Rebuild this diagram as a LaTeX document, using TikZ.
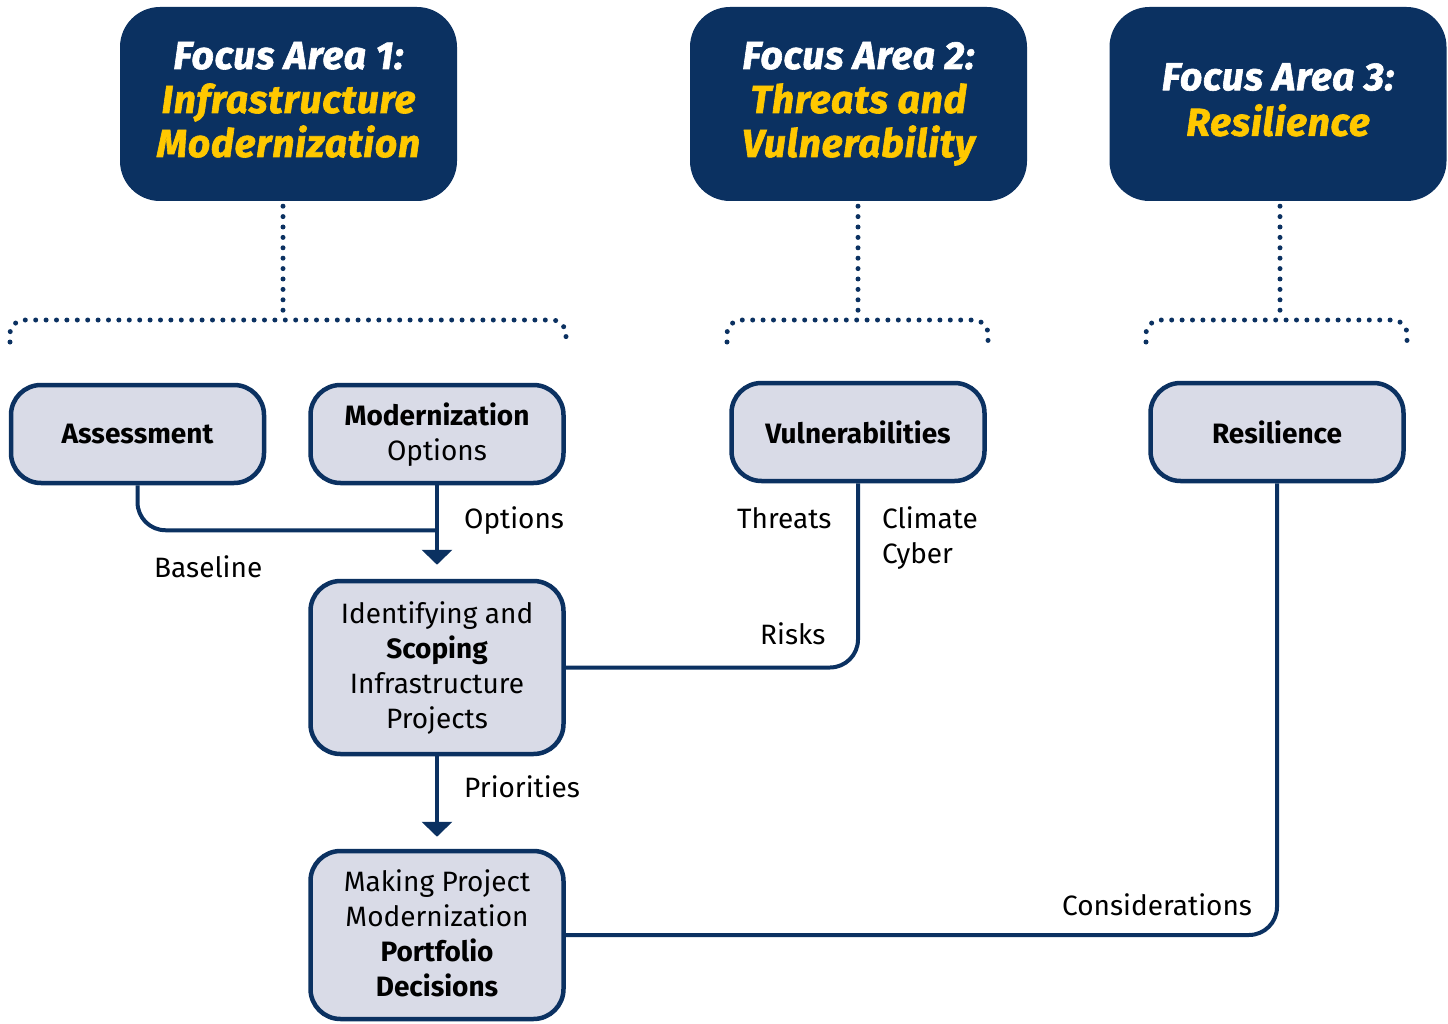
\documentclass[tikz,border=0pt]{standalone}
\usepackage{fontspec}
\setmainfont{Fira Sans}
\newfontfamily\titlefont[BoldItalicFeatures={FakeBold=1.6,LetterSpace=2}]{Fira Sans}
\usetikzlibrary{arrows.meta,calc}
\definecolor{navy}{HTML}{0B3161}
\definecolor{gold}{HTML}{FFC800}
\definecolor{lightfill}{HTML}{D9DBE7}
\newcommand{\tstrut}{\rule[-13pt]{0pt}{44pt}}
\newcommand{\bstrut}{\rule[-9pt]{0pt}{35pt}}
\begin{document}
\begin{tikzpicture}[x=1pt,y=-1pt,
  focusbox/.style={draw=none,fill=navy,rounded corners=40pt,minimum width=337pt,minimum height=194pt,
    align=center,text=white,font=\fontsize{39}{44}\titlefont\bfseries\itshape,inner sep=0pt},
  stepbox/.style={draw=navy,line width=4.5pt,fill=lightfill,rounded corners=30pt,minimum width=253pt,
    align=center,text=black,font=\fontsize{28}{35}\selectfont,inner sep=0pt},
  conn/.style={draw=navy,line width=4pt,rounded corners=28pt},
  arr/.style={draw=navy,line width=4pt,-{Triangle[width=30pt,length=15pt]}},
  dots/.style={draw=navy,line width=5pt,line cap=round,dash pattern=on 0pt off 10.4pt,rounded corners=14pt},
  lbl/.style={font=\fontsize{28}{35}\selectfont,inner sep=0pt}]
\useasboundingbox (0,0) rectangle (1448,1024);

% focus areas
\node[focusbox] (f1) at (288.5,104) {\tstrut Focus Area 1:\\\textcolor{gold}{Infrastructure}\\\textcolor{gold}{Modernization}\tstrut};
\node[focusbox] (f2) at (858.5,104) {\tstrut Focus Area 2:\\\textcolor{gold}{Threats and}\\\textcolor{gold}{Vulnerability}\tstrut};
\node[focusbox] (f3) at (1278,104) {\tstrut Focus Area 3:\\\textcolor{gold}{Resilience}\tstrut};

% dotted brackets
\coordinate (j1) at (283,320);
\coordinate (j2) at (858,320);
\coordinate (j3) at (1280,320);
\draw[dots] (f1.south -| j1) ++(0,5) -- (j1);
\draw[dots] (f2.south -| j2) ++(0,5) -- (j2);
\draw[dots] (f3.south -| j3) ++(0,5) -- (j3);
\draw[dots] (10,342) -- (10,320) -- (566,320) -- (566,342);
\draw[dots] (727,342) -- (727,320) -- (988,320) -- (988,342);
\draw[dots] (1146,342) -- (1146,320) -- (1407,320) -- (1407,342);

% step boxes
\node[stepbox,minimum height=98pt] (assess) at (137.5,434) {\bfseries Assessment};
\node[stepbox,minimum height=98pt] (modopt) at (437,434) {\bstrut\bfseries Modernization\\Options\bstrut};
\node[stepbox,minimum height=98pt] (vuln) at (858,432) {\bfseries Vulnerabilities};
\node[stepbox,minimum height=98pt] (resil) at (1277,432) {\bfseries Resilience};
\node[stepbox,minimum height=173pt] (scope) at (437,667.5) {\bstrut Identifying and\\\textbf{Scoping}\\Infrastructure\\Projects\bstrut};
\node[stepbox,minimum height=168pt] (decide) at (437,935) {\bstrut Making Project\\Modernization\\\textbf{Portfolio}\\\textbf{Decisions}\bstrut};

% connectors
\draw[conn] (assess.south) |- ($(modopt.south)+(0,45)$);
\draw[arr,shorten >=14pt] (modopt.south) -- (scope.north);
\draw[conn] (vuln.south) |- (scope.east);
\draw[arr,shorten >=12pt] (scope.south) -- (decide.north);
\draw[conn] (resil.south) |- (decide.east);

% labels
\node[lbl,anchor=base west] (lopt) at (464,528) {Options};
\node[lbl,anchor=base west] (lbase) at (154,577) {Baseline};
\node[lbl,anchor=base west] (lthr) at (737,528) {Threats};
\node[lbl,anchor=base west] (lcli) at (882,528) {Climate};
\node[lbl,anchor=base west] (lcyb) at (882,563) {Cyber};
\node[lbl,anchor=base west] (lrisk) at (760,644) {Risks};
\node[lbl,anchor=base west] (lprio) at (464,797) {Priorities};
\node[lbl,anchor=base west] (lcons) at (1062,915) {Considerations};
\end{tikzpicture}
\end{document}
